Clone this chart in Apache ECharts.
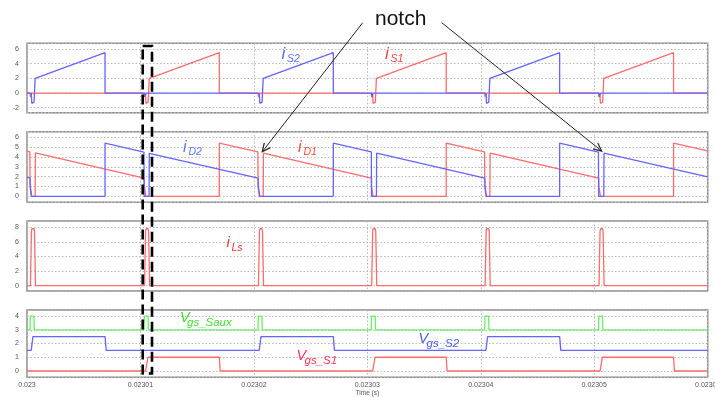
<!DOCTYPE html>
<html><head><meta charset="utf-8">
<script src="https://cdn.jsdelivr.net/npm/echarts@6/dist/echarts.min.js"></script>
<style>html,body{margin:0;padding:0;background:#fff}#c{width:715px;height:397px}</style>
</head><body><div id="c"></div>
<script>
// x values in microseconds after 0.023 s
const X_TICK_LABELS = ['0.023','0.02301','0.02302','0.02303','0.02304','0.02305','0.02306'];

const iS1 = [[0,0],[0.27,0],[0.30,-0.55],[0.42,-0.45],[0.45,0],
 [10.44,0],[10.48,-1.4],[10.68,-1.25],[10.76,-1.0],[10.78,2.0],[16.95,5.5],[16.95,0],
 [20.37,0],[20.40,-0.55],[20.52,-0.45],[20.55,0],
 [30.46,0],[30.50,-1.4],[30.70,-1.25],[30.78,-1.0],[30.80,2.0],[36.95,5.5],[36.95,0],
 [40.35,0],[40.38,-0.55],[40.50,-0.45],[40.53,0],
 [50.50,0],[50.54,-1.4],[50.74,-1.25],[50.82,-1.0],[50.84,2.0],[56.99,5.5],[56.99,0],[60,0]];
const iS2 = [[0,0],[0.38,0],[0.42,-1.4],[0.62,-1.25],[0.70,-1.0],[0.72,2.0],[6.88,5.5],[6.88,0],
 [10.33,0],[10.36,-0.55],[10.48,-0.45],[10.51,0],
 [20.48,0],[20.52,-1.4],[20.72,-1.25],[20.80,-1.0],[20.82,2.0],[27.0,5.5],[27.0,0],
 [30.35,0],[30.38,-0.55],[30.50,-0.45],[30.53,0],
 [40.46,0],[40.50,-1.4],[40.70,-1.25],[40.78,-1.0],[40.80,2.0],[46.95,5.5],[46.95,0],
 [50.39,0],[50.42,-0.55],[50.54,-0.45],[50.57,0],[60,0]];

const iD1 = [[0,4.60],[0.25,4.53],[0.27,1.0],[0.38,0],[0.72,0],[0.74,4.41],[10.33,1.85],[10.35,1.0],[10.48,0],
 [16.95,0],[16.95,5.4],[20.35,4.51],[20.37,1.0],[20.48,0],[20.82,0],[20.84,4.38],
 [30.35,1.85],[30.37,1.0],[30.50,0],
 [36.95,0],[36.95,5.4],[40.33,4.51],[40.35,1.0],[40.46,0],[40.80,0],[40.82,4.38],
 [50.39,1.85],[50.41,1.0],[50.54,0],
 [56.99,0],[56.99,5.4],[60,4.61]];
const iD2 = [[0,1.95],[0.27,1.85],[0.29,1.0],[0.42,0],
 [6.88,0],[6.88,5.4],[10.31,4.50],[10.33,0],[10.76,0],[10.78,4.37],
 [20.37,1.85],[20.39,1.0],[20.52,0],
 [27.0,0],[27.0,5.4],[30.35,4.52],[30.37,0],[30.80,0],[30.82,4.39],
 [40.35,1.85],[40.37,1.0],[40.50,0],
 [46.95,0],[46.95,5.4],[50.37,4.50],[50.39,0],[50.84,0],[50.86,4.38],[60,1.97]];

const iLs = [[0,0],
 [0.30,0],[0.39,7.4],[0.43,7.8],[0.62,7.8],[0.66,7.4],[0.75,0],
 [10.36,0],[10.45,7.4],[10.49,7.8],[10.68,7.8],[10.72,7.4],[10.81,0],
 [20.40,0],[20.49,7.4],[20.53,7.8],[20.72,7.8],[20.76,7.4],[20.85,0],
 [30.38,0],[30.47,7.4],[30.51,7.8],[30.70,7.8],[30.74,7.4],[30.83,0],
 [40.38,0],[40.47,7.4],[40.51,7.8],[40.70,7.8],[40.74,7.4],[40.83,0],
 [50.42,0],[50.51,7.4],[50.55,7.8],[50.74,7.8],[50.78,7.4],[50.87,0],[60,0]];

const vgsSaux = [[0,3],
 [0.26,3],[0.29,4],[0.61,4],[0.64,3],
 [10.32,3],[10.35,4],[10.67,4],[10.70,3],
 [20.36,3],[20.39,4],[20.71,4],[20.74,3],
 [30.34,3],[30.37,4],[30.69,4],[30.72,3],
 [40.34,3],[40.37,4],[40.69,4],[40.72,3],
 [50.38,3],[50.41,4],[50.73,4],[50.76,3],[60,3]];
const vgsS2 = [[0,1.5],[0.37,1.5],[0.52,2.5],[6.88,2.5],[6.98,1.5],
 [20.47,1.5],[20.62,2.5],[27.0,2.5],[27.1,1.5],
 [40.45,1.5],[40.60,2.5],[46.95,2.5],[47.05,1.5],[60,1.5]];
const vgsS1 = [[0,0],[10.45,0],[10.66,1],[16.95,1],[17.03,0],
 [30.47,0],[30.68,1],[36.95,1],[37.03,0],
 [50.51,0],[50.72,1],[56.99,1],[57.07,0],[60,0]];

const RED = '#ff6b6b', BLUE = '#6464ff', GREEN = '#66f066';
const PANELS = [
  {top:43.3, height:69.4, ymin:-2.68, ymax:6.78, step:2},
  {top:131.7, height:70.6, ymin:-0.61, ymax:6.57, step:1},
  {top:221, height:70, ymin:-0.73, ymax:8.86, step:2},
  {top:310, height:67.3, ymin:-0.46, ymax:4.44, step:1}
];
const FONT = 'Liberation Sans, Arial, sans-serif';
const dotted = {show:true, lineStyle:{color:'#b8b8b8', type:[1.5,2], width:1}};

const grid = PANELS.map(p => ({left:27, width:680.7, top:p.top, height:p.height, show:true,
  borderColor:'#8c8c8c', borderWidth:1.5, backgroundColor:'#fff', containLabel:false,
  outerBoundsMode:'none'}));
const xAxis = PANELS.map((p,i) => ({type:'value', gridIndex:i, min:0, max:60, interval:10,
  axisLine:{show:false}, axisTick:{show:false}, splitLine:dotted,
  axisLabel:{show:i===3, fontSize:7, color:'#555', fontFamily:FONT, margin:4, interval:0,
    showMinLabel:true, showMaxLabel:true, hideOverlap:false,
    formatter:v => X_TICK_LABELS[Math.round(v/10)]},
  name: i===3 ? 'Time (s)' : '', nameLocation:'middle', nameGap:12,
  nameTextStyle:{fontSize:6.5, color:'#555', fontFamily:FONT}}));
const yAxis = PANELS.map((p,i) => ({type:'value', gridIndex:i, min:p.ymin, max:p.ymax,
  minInterval:p.step, maxInterval:p.step,
  axisLine:{show:false}, axisTick:{show:false}, splitLine:dotted,
  axisLabel:{fontSize:7, color:'#555', fontFamily:FONT, margin:8, showMinLabel:false, showMaxLabel:false,
    formatter:v => String(Math.round(v))}}));

function ser(data, color, gi){
  return {type:'line', data, xAxisIndex:gi, yAxisIndex:gi, showSymbol:false, symbol:'none',
    lineStyle:{color, width:1.3}, itemStyle:{color}, animation:false, silent:true};
}
const series = [
  ser(iS1, RED, 0), ser(iS2, BLUE, 0),
  ser(iD1, RED, 1), ser(iD2, BLUE, 1),
  ser(iLs, RED, 2),
  ser(vgsS1, RED, 3), ser(vgsS2, BLUE, 3), ser(vgsSaux, GREEN, 3)
];

function txt(s, x, base, size, color){
  return {type:'text', x, y: base - 0.35*size, z:100,
    style:{text:s, font:'italic '+size+'px '+FONT, fill:color, verticalAlign:'middle', align:'left'}};
}
function lbl(main, sub, x, base, color, ms, subX, subBase, ss){
  return [txt(main, x, base, ms, color), txt(sub, subX, subBase, ss, color)];
}
function arrow(x1,y1,x2,y2){
  const dx=x2-x1, dy=y2-y1, L=Math.hypot(dx,dy), bx=-dx/L, by=-dy/L, a=0.44, h=9;
  const c=Math.cos(a), s=Math.sin(a);
  const p1=[x2+h*(bx*c-by*s), y2+h*(bx*s+by*c)], p2=[x2+h*(bx*c+by*s), y2+h*(-bx*s+by*c)];
  return [
    {type:'line', z:100, shape:{x1,y1,x2,y2}, style:{stroke:'#222', lineWidth:1}},
    {type:'polyline', z:100, shape:{points:[p1,[x2,y2],p2]}, style:{stroke:'#222', lineWidth:1.2, fill:null}}
  ];
}
const graphic = [].concat(
  lbl('i','S2',281.5,60,'#5a6cff',17,287,63,10.5),
  lbl('i','S1',385,60,'#ff4040',17,390.5,63,10.5),
  lbl('i','D2',183,153,'#5577ff',16,188.5,156,10.5),
  lbl('i','D1',298,153,'#ff4a3a',16,303.5,156,10.5),
  lbl('i','Ls',226.5,248.5,'#ff3030',15,231.5,251.5,10.5),
  lbl('V','gs_Saux',180,323.5,'#44dd33',14.5,187,327,11.5),
  lbl('V','gs_S2',418.5,344,'#4a5cff',14.5,426.5,348,11.5),
  lbl('V','gs_S1',296.5,361.5,'#ff3355',14.5,304.5,365,11.5),
  [{type:'text', x:375, y:19.5, z:100, style:{text:'notch', font:'21px '+FONT, fill:'#111', verticalAlign:'middle'}}],
  arrow(362.7,22.7,262.3,151.7),
  arrow(441.7,22.7,601.7,151),
  [{type:'rect', z:101, shape:{x:142.7, y:46, width:9.3, height:327.5},
    style:{stroke:'#000', lineWidth:2.6, lineDash:[10,5], fill:null}}]
);

const chart = echarts.init(document.getElementById('c'), null, {renderer:'canvas'});
chart.setOption({animation:false, backgroundColor:'#fff', grid, xAxis, yAxis, series, graphic});
</script></body></html>
